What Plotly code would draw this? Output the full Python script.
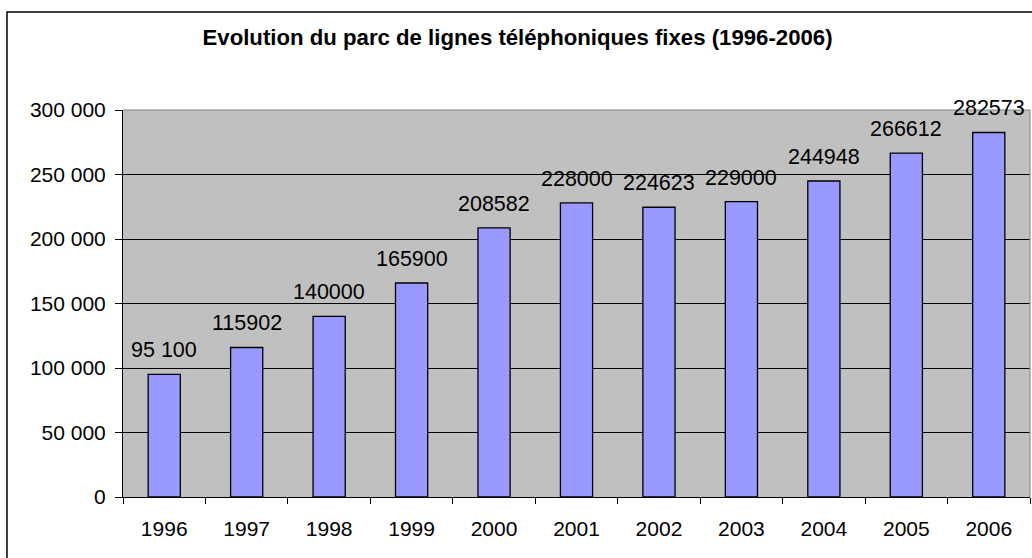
import plotly.graph_objects as go

# donnees du graphique
annees = ["1996", "1997", "1998", "1999", "2000", "2001", "2002", "2003", "2004", "2005", "2006"]
lignes = [95100, 115902, 140000, 165900, 208582, 228000, 224623, 229000, 244948, 266612, 282573]
etiquettes = ["95 100", "115902", "140000", "165900", "208582", "228000",
              "224623", "229000", "244948", "266612", "282573"]

police = "Liberation Sans, Arial, sans-serif"

fig = go.Figure(go.Bar(
    x=annees, y=lignes, width=0.39,
    marker=dict(color="#9999FF", line=dict(color="black", width=1.3)),
    hoverinfo="x+y",
))

# etiquettes au dessus des barres (x = indice de categorie)
for i, (v, t) in enumerate(zip(lignes, etiquettes)):
    fig.add_annotation(x=i, y=v, text=t, showarrow=False, yanchor="middle",
                       yshift=24, font=dict(family=police, size=21.5, color="black"))

fig.update_layout(
    width=1032, height=558,
    margin=dict(l=123, r=2, t=110, b=61),
    paper_bgcolor="white", plot_bgcolor="#C0C0C0",
    separators=", ",
    showlegend=False,
    font=dict(family=police, size=21, color="black"),
    title=dict(text="<b>Evolution du parc de lignes téléphoniques fixes (1996-2006)</b>",
               x=0.5015, xref="container", y=1 - 37 / 558, yref="container",
               yanchor="middle", xanchor="center",
               font=dict(family=police, size=22.2, color="black")),
)

fig.update_xaxes(type="category", range=[-0.5, len(annees) - 0.5],
                 showline=True, linecolor="black", linewidth=1, tickangle=0,
                 ticks="outside", tickson="boundaries", ticklen=6, tickcolor="black",
                 showgrid=False, ticklabelstandoff=13, automargin=False)
fig.update_yaxes(range=[0, 300000], dtick=50000, tickformat=",d",
                 showline=True, linecolor="black", linewidth=1,
                 ticks="outside", ticklen=7, tickcolor="black",
                 showgrid=True, gridcolor="black", gridwidth=1, zeroline=False,
                 ticklabelstandoff=5, automargin=False)

# bord gris du haut et de droite de la zone de trace
fig.add_shape(type="line", xref="paper", yref="paper", x0=0, x1=1, y0=1, y1=1,
              line=dict(color="#808080", width=1), layer="above")
fig.add_shape(type="line", xref="paper", yref="paper", x0=1, x1=1, y0=0, y1=1,
              line=dict(color="#808080", width=1), layer="above")
# cadre exterieur du graphique (coupe a droite et en bas)
fig.add_shape(type="rect", xref="paper", yref="paper",
              x0=(7 - 123) / 907, x1=1.05, y0=-0.3, y1=1 + (110 - 12) / 387,
              line=dict(color="black", width=1.5), layer="above")

# pas de marge autour de la figure dans la page, pas de barre d'outils
fig.write_html("out.html", config={"displayModeBar": False},
               post_script="document.body.style.margin = '0';")
